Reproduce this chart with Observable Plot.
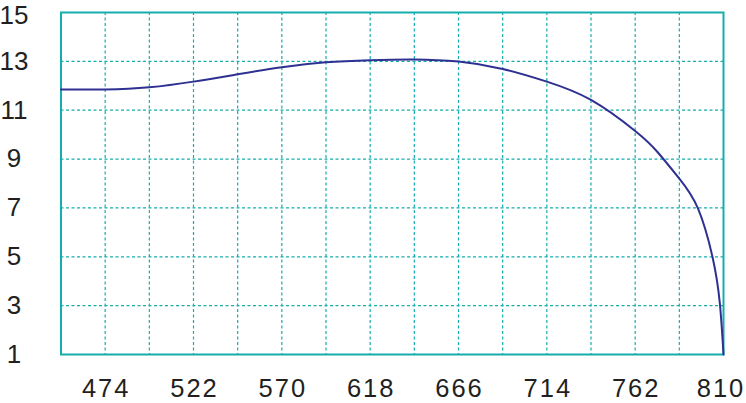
<!DOCTYPE html>
<html>
<head>
<meta charset="utf-8">
<script src="https://cdn.jsdelivr.net/npm/d3@7"></script>
<script src="https://cdn.jsdelivr.net/npm/@observablehq/plot@0.6"></script>
<style>
  html, body { margin: 0; padding: 0; background: #fff; }
  #chart svg { display: block; }
  #chart svg g[aria-label="x-axis tick label"] text { letter-spacing: 2px; }
</style>
</head>
<body>
<div id="chart"></div>
<script>
const wavelength = [450, 474, 498, 522, 546, 570, 594, 618, 642, 666, 690, 714, 738, 762, 774, 786, 796, 804, 808, 810];
const values = [11.85, 11.85, 11.94, 12.17, 12.47, 12.76, 12.96, 13.05, 13.08, 12.99, 12.69, 12.17, 11.42, 10.15, 9.3, 8.2, 7.0, 5.0, 3.1, 1.0];
const xTicks = [474, 522, 570, 618, 666, 714, 762, 810];
const xGrid = [474, 498, 522, 546, 570, 594, 618, 642, 666, 690, 714, 738, 762, 786];
const yTicks = [1, 3, 5, 7, 9, 11, 13, 15];
const yGrid = [3, 5, 7, 9, 11, 13];

const data = wavelength.map((w, i) => ({w, v: values[i]}));
const teal = "#16adad";
const xLast = xTicks[xTicks.length - 1];
const yLast = yTicks[yTicks.length - 1];

const xAxisOpts = {tickSize: 0, tickPadding: 24, label: null, fill: "#231f20", fontSize: 25.5, tickFormat: d => String(d)};
const yAxisOpts = {tickSize: 0, tickPadding: 47, textAnchor: "middle", label: null, fill: "#231f20", fontSize: 26, tickFormat: d => String(d)};

const chart = Plot.plot({
  width: 746,
  height: 403,
  marginLeft: 60.5,
  marginRight: 23,
  marginTop: 12,
  marginBottom: 49,
  style: {fontFamily: "'Liberation Sans', Arial, sans-serif", fontSize: "25px", color: "#231f20", background: "#fff"},
  x: {domain: [450, 810]},
  y: {domain: [1, 15]},
  marks: [
    Plot.gridX(xGrid, {stroke: teal, strokeOpacity: 1, strokeWidth: 1.2, strokeDasharray: "3,2.5"}),
    Plot.gridY(yGrid, {stroke: teal, strokeOpacity: 1, strokeWidth: 1.2, strokeDasharray: "3,2.5"}),
    Plot.frame({stroke: teal, strokeWidth: 2}),
    Plot.axisX(xTicks.filter(d => d !== xLast), {...xAxisOpts, dx: 1}),
    Plot.axisX([xLast], {...xAxisOpts, dx: -2.5}),
    Plot.axisY(yTicks.filter(d => d !== yLast), yAxisOpts),
    Plot.axisY([yLast], {...yAxisOpts, dy: 3}),
    Plot.line(data, {x: "w", y: "v", stroke: "#2e3192", strokeWidth: 2, curve: "natural"})
  ]
});
document.getElementById("chart").appendChild(chart);
</script>
</body>
</html>
